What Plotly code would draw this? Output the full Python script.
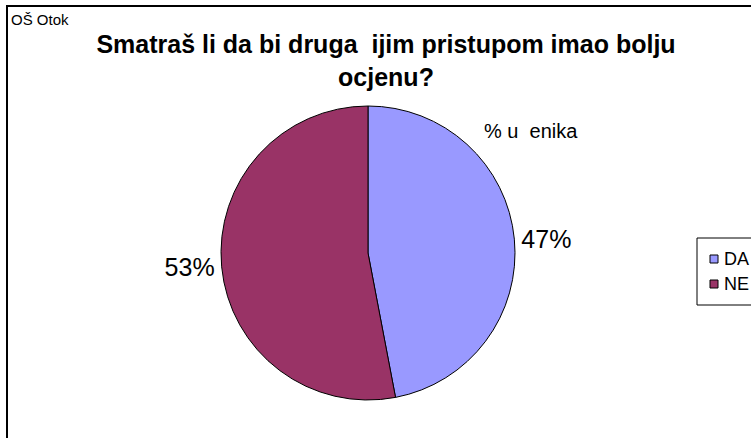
import plotly.graph_objects as go

labels = ["DA", "NE"]
values = [47, 53]
colors = ["#9999FF", "#993366"]
title_text = "Smatraš li da bi druga \u00a0ijim pristupom imao bolju<br>ocjenu?"
series_name = "% u \u00a0enika"
corner_text = "OŠ Otok"

W, H = 751, 438
cx, cy, r = 368, 253, 147

fig = go.Figure(go.Pie(
    labels=labels, values=values, sort=False, direction="clockwise", rotation=0,
    marker=dict(colors=colors, line=dict(color="black", width=1)),
    textposition="outside", texttemplate="%{percent:.0%}",
    textfont=dict(size=25, color="black", family="Liberation Sans, Arial"),
    domain=dict(x=[(cx - r) / W, (cx + r) / W], y=[(H - cy - r) / H, (H - cy + r) / H]),
    showlegend=False,
))

def px(x):
    return x / W

def py(y):
    return 1 - y / H

shapes = [
    dict(type="rect", xref="paper", yref="paper",
         x0=px(7), x1=1.05, y0=-0.05, y1=py(6),
         line=dict(color="black", width=2), fillcolor="rgba(0,0,0,0)"),
    # legend box
    dict(type="rect", xref="paper", yref="paper",
         x0=px(697), x1=1.05, y0=py(305), y1=py(238),
         line=dict(color="black", width=1), fillcolor="white"),
]
annotations = [
    dict(text=corner_text, xref="paper", yref="paper", x=px(9), y=py(9),
         xanchor="left", yanchor="top", showarrow=False, font=dict(size=15)),
    dict(text=series_name, xref="paper", yref="paper", x=px(530.5), y=py(131),
         xanchor="center", yanchor="middle", showarrow=False, font=dict(size=20)),
]
# legend entries built from the category list
for i, (lab, col) in enumerate(zip(labels, colors)):
    yc = 259 + 25 * i
    shapes.append(dict(type="rect", xref="paper", yref="paper",
                       x0=px(710), x1=px(718), y0=py(yc + 4), y1=py(yc - 4),
                       line=dict(color="black", width=1), fillcolor=col))
    annotations.append(dict(text=lab, xref="paper", yref="paper", x=px(722), y=py(yc),
                            xanchor="left", yanchor="middle", showarrow=False,
                            font=dict(size=18)))

fig.update_layout(
    width=W, height=H, margin=dict(l=0, r=0, t=0, b=0, autoexpand=False),
    paper_bgcolor="white", plot_bgcolor="white",
    font=dict(family="Liberation Sans, Arial", color="black"),
    title=dict(text="<b>" + title_text + "</b>", x=386 / W, xanchor="center",
               y=py(53), yanchor="top", font=dict(size=25, color="black")),
    showlegend=False,
    shapes=shapes,
    annotations=annotations,
)

fig.write_html("out.html", config={"displayModeBar": False},
               post_script="document.body.style.margin='0px';")
